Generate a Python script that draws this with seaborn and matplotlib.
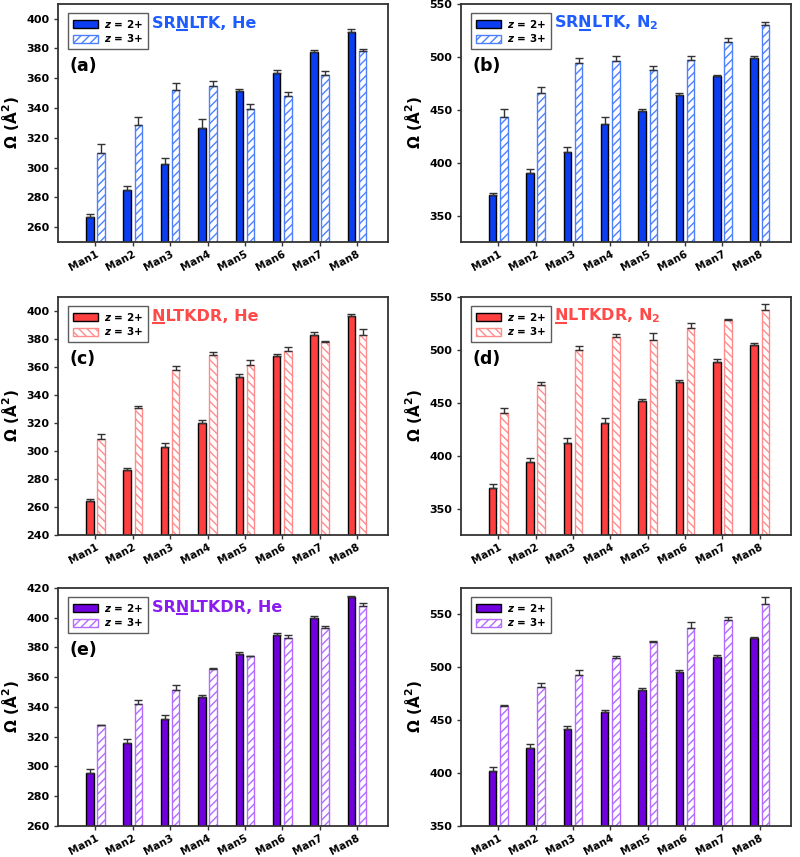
import numpy as np
import pandas as pd
import matplotlib
matplotlib.use("Agg")
import matplotlib.pyplot as plt
import seaborn as sns

# Data (CCS in A^2), upper error only
isomers = ["Man1", "Man2", "Man3", "Man4", "Man5", "Man6", "Man7", "Man8"]
charges = ["z = 2+", "z = 3+"]

a_z2 = [266.5, 284.9, 302.4, 326.6, 351.3, 363.7, 377.8, 391.3]
a_z2_err = [2.0, 2.7, 4.0, 6.0, 1.5, 1.5, 1.3, 1.8]
a_z3 = [309.8, 328.9, 352.2, 354.7, 339.0, 348.0, 362.1, 378.0]
a_z3_err = [6.3, 5.0, 4.3, 3.6, 3.8, 3.0, 3.0, 1.4]

b_z2 = [369.0, 390.4, 410.0, 436.3, 449.0, 464.0, 481.4, 499.0]
b_z2_err = [2.0, 4.0, 5.0, 6.3, 2.0, 1.6, 1.3, 2.0]
b_z3 = [442.6, 465.6, 493.8, 496.3, 487.4, 497.0, 514.0, 530.4]
b_z3_err = [8.0, 6.0, 5.0, 4.7, 3.8, 3.5, 3.8, 2.8]

c_z2 = [264.3, 286.2, 302.9, 320.2, 353.1, 367.9, 382.9, 396.2]
c_z2_err = [1.7, 1.7, 2.8, 2.2, 1.9, 1.1, 1.9, 1.4]
c_z3 = [308.6, 330.5, 357.6, 368.6, 361.4, 371.4, 377.4, 382.9]
c_z3_err = [3.8, 1.9, 2.9, 1.9, 3.8, 3.1, 0.7, 4.0]

d_z2 = [369.5, 393.6, 412.2, 431.0, 451.4, 469.3, 488.2, 504.8]
d_z2_err = [3.7, 4.4, 4.7, 4.1, 1.9, 1.9, 2.8, 1.9]
d_z3 = [440.7, 466.8, 499.8, 512.3, 509.5, 520.5, 528.0, 537.4]
d_z3_err = [4.7, 2.9, 3.4, 2.8, 6.2, 5.0, 0.6, 5.7]

e_z2 = [295.7, 316.0, 331.7, 346.7, 375.3, 388.3, 399.8, 413.9]
e_z2_err = [2.7, 2.4, 2.5, 1.4, 1.8, 1.4, 1.5, 0.5]
e_z3 = [327.5, 341.6, 351.5, 365.4, 373.9, 386.3, 393.0, 407.9]
e_z3_err = [0.3, 3.1, 3.1, 0.7, 0.5, 2.2, 1.0, 2.0]

f_z2 = [402.0, 424.1, 441.2, 457.6, 478.7, 495.1, 509.6, 527.6]
f_z2_err = [3.5, 3.2, 2.8, 1.5, 1.9, 2.2, 1.9, 0.6]
f_z3 = [463.2, 481.2, 492.9, 509.0, 524.1, 537.4, 544.3, 560.1]
f_z3_err = [0.6, 4.1, 4.4, 1.6, 1.0, 5.0, 3.5, 5.7]

blue = ("#0a3ef0", "#4d80ff", "#1f5cff")
red = ("#ff4040", "#ff8c8c", "#ff4a4a")
purple = ("#7000dd", "#b36cff", "#8a1cf0")

# title pieces: text before the underlined residue, the residue, text after
panels = [
    (a_z2, a_z2_err, a_z3, a_z3_err, blue, "////",
     ("SR", "N", "LTK, He"), "(a)", (250, 410), np.arange(260, 401, 20)),
    (b_z2, b_z2_err, b_z3, b_z3_err, blue, "////",
     ("SR", "N", r"LTK, N$_\mathbf{2}$"), "(b)", (325, 550), np.arange(350, 551, 50)),
    (c_z2, c_z2_err, c_z3, c_z3_err, red, "\\\\\\\\",
     ("", "N", "LTKDR, He"), "(c)", (240, 410), np.arange(240, 401, 20)),
    (d_z2, d_z2_err, d_z3, d_z3_err, red, "\\\\\\\\",
     ("", "N", r"LTKDR, N$_\mathbf{2}$"), "(d)", (325, 550), np.arange(350, 551, 50)),
    (e_z2, e_z2_err, e_z3, e_z3_err, purple, "////",
     ("SR", "N", "LTKDR, He"), "(e)", (260, 420), np.arange(260, 421, 20)),
    (f_z2, f_z2_err, f_z3, f_z3_err, purple, "////",
     None, None, (350, 575), np.arange(350, 551, 50)),
]

sns.set_style("white")
plt.rcParams["font.family"] = ["DejaVu Sans"]
plt.rcParams["font.weight"] = "bold"
plt.rcParams["hatch.linewidth"] = 1.0
plt.rcParams["text.color"] = "black"
plt.rcParams["axes.labelcolor"] = "black"

fig = plt.figure(figsize=(8, 8.57), dpi=100)
lefts = [0.0725, 0.576]
bottoms = [0.7176, 0.3757, 0.0362]
titles = []

for i, (z2, z2e, z3, z3e, cols, hatch, title, label, ylim, yt) in enumerate(panels):
    ax = fig.add_axes([lefts[i % 2], bottoms[i // 2], 0.413, 0.278])
    df = pd.DataFrame({
        "isomer": isomers * 2,
        "charge": [charges[0]] * 8 + [charges[1]] * 8,
        "ccs": z2 + z3,
    })
    sns.barplot(data=df, x="isomer", y="ccs", hue="charge", palette=[cols[0], "white"],
                saturation=1, width=0.6, gap=0.33, errorbar=None, legend=False, ax=ax,
                edgecolor="black", linewidth=1.0)
    solid, hatched = ax.containers[0], ax.containers[1]
    for p in hatched:
        p.set_hatch(hatch)
        p.set_edgecolor(cols[1])
        p.set_facecolor("white")
    for cont, err in [(solid, z2e), (hatched, z3e)]:
        xs = [p.get_x() + p.get_width() / 2 for p in cont]
        hs = [p.get_height() for p in cont]
        ax.errorbar(xs, hs, yerr=[np.zeros(len(err)), err], fmt="none",
                    ecolor="#333333", elinewidth=1.0, capsize=3, capthick=1.0, zorder=5)

    ax.set_xlim(-1.0, 7.84)
    ax.set_ylim(*ylim)
    ax.set_yticks(yt)
    ax.set_xlabel("")
    ax.set_ylabel(r"$\Omega$ (Å$^\mathbf{2}$)", fontsize=11, fontweight="bold")
    ax.tick_params(axis="y", labelsize=8, direction="out", length=3, width=1,
                   left=True, color="#333333", labelcolor="black", pad=3)
    ax.tick_params(axis="x", labelsize=7.5, direction="out", length=3, width=1,
                   bottom=True, color="#333333", labelcolor="black", pad=2)
    for t in ax.get_xticklabels():
        t.set_rotation(28)
        t.set_ha("right")
        t.set_rotation_mode("anchor")
        t.set_fontweight("bold")
    for t in ax.get_yticklabels():
        t.set_fontweight("bold")
    for s in ax.spines.values():
        s.set_color("#333333")
        s.set_linewidth(1.3)

    leg = ax.legend([solid, hatched],
                    [r"$\mathbfit{z}$ = 2+", r"$\mathbfit{z}$ = 3+"],
                    loc="upper left", bbox_to_anchor=(0.025, 0.97), fontsize=7.5,
                    frameon=True, fancybox=False, edgecolor="#333333",
                    handlelength=2.4, handleheight=0.8, labelspacing=0.25,
                    borderpad=0.45, handletextpad=0.6, borderaxespad=0.2)
    leg.get_frame().set_linewidth(1.0)

    if title:
        pre, mid, post = title
        t = ax.text(0.283, 0.90, pre + mid + post, transform=ax.transAxes, fontsize=11.5,
                    fontweight="bold", color=cols[2], va="baseline", ha="left")
        titles.append((ax, t, pre, mid, cols[2]))
    if label:
        ax.text(0.035, 0.74, label, transform=ax.transAxes, fontsize=12.5,
                fontweight="bold", va="center", ha="left")

# underline the labelled residue in each title
fig.canvas.draw()
renderer = fig.canvas.get_renderer()
for ax, t, pre, mid, col in titles:
    def width_of(s):
        if not s:
            return 0.0
        tmp = ax.text(0, 0, s, fontsize=11.5, fontweight="bold")
        w = tmp.get_window_extent(renderer).width
        tmp.remove()
        return w
    bb = t.get_window_extent(renderer)
    x0 = bb.x0 + width_of(pre) + 0.5
    x1 = bb.x0 + width_of(pre + mid) - 0.5
    bx, by = ax.transAxes.transform((0.283, 0.90))
    y = by - 2.0
    inv = ax.transAxes.inverted()
    (ax0, ay), (ax1, _) = inv.transform([(x0, y), (x1, y)])
    ax.plot([ax0, ax1], [ay, ay], transform=ax.transAxes, color=col, lw=1.5,
            solid_capstyle="butt", clip_on=False)

fig.savefig("out.png", dpi=100)
